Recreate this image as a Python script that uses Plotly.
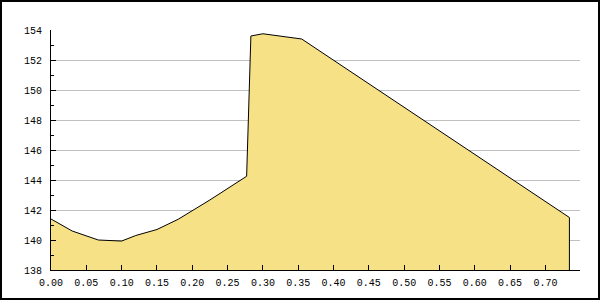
import plotly.graph_objects as go

x_vals = [0.000, 0.030, 0.067, 0.085, 0.100, 0.120, 0.150, 0.180, 0.225, 0.277, 0.283, 0.300, 0.325, 0.355, 0.734]
y_vals = [141.4, 140.6, 140.0, 139.95, 139.93, 140.3, 140.7, 141.38, 142.67, 144.25, 153.6, 153.75, 153.6, 153.4, 141.5]

y_min, y_max = 138, 154
x_min, x_max = 0.0, 0.749
x_ticks = [0.00, 0.05, 0.10, 0.15, 0.20, 0.25, 0.30, 0.35, 0.40, 0.45, 0.50, 0.55, 0.60, 0.65, 0.70]

W, H = 600, 300
L, R, T, B = 51, 20, 30, 30
pw, ph = W - L - R, H - T - B

fig = go.Figure()
fig.add_trace(go.Scatter(
    x=x_vals, y=y_vals, mode="lines", fill="tozeroy",
    fillcolor="#f6e186", line=dict(color="black", width=1), hoverinfo="skip"))
# closing vertical edge at the end of the area
fig.add_trace(go.Scatter(
    x=[x_vals[-1], x_vals[-1]], y=[y_vals[-1], y_min], mode="lines",
    line=dict(color="black", width=1), hoverinfo="skip"))

font = dict(family="Liberation Mono", size=10, color="black")
fig.update_layout(
    width=W, height=H, showlegend=False,
    margin=dict(l=L, r=R, t=T, b=B, pad=0),
    paper_bgcolor="white", plot_bgcolor="white",
    font=font,
    xaxis=dict(range=[x_min, x_max], tickvals=x_ticks, tickformat=".2f",
               ticks="inside", ticklen=5, tickcolor="black", tickwidth=1,
               showline=True, linecolor="black", linewidth=1,
               showgrid=False, zeroline=False, tickfont=font, ticklabelstandoff=3),
    yaxis=dict(range=[y_min, y_max], dtick=2, tick0=138,
               ticks="inside", ticklen=5, tickcolor="black", tickwidth=1,
               showline=True, linecolor="black", linewidth=1,
               showgrid=True, gridcolor="#c0c0c0", gridwidth=1,
               zeroline=False, tickfont=font, ticklabelstandoff=6,
               minor=dict(dtick=1, ticks="inside", ticklen=3, tickcolor="black", showgrid=False)),
    shapes=[dict(type="rect", xref="paper", yref="paper",
                 x0=(-L + 1) / pw, x1=1 + (R - 1) / pw,
                 y0=(-B + 1) / ph, y1=1 + (T - 1) / ph,
                 line=dict(color="black", width=2), fillcolor="rgba(0,0,0,0)", layer="above")],
)

fig.write_html("out.html")
